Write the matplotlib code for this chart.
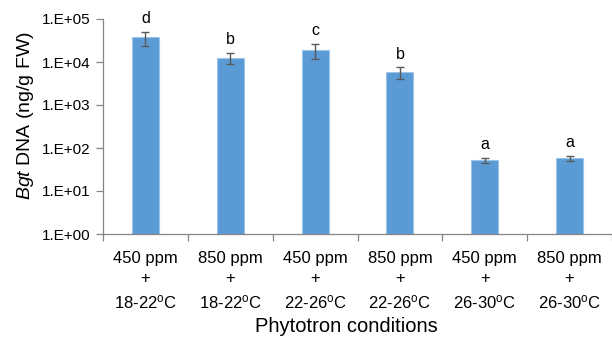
import numpy as np
import matplotlib
matplotlib.use("Agg")
import matplotlib.pyplot as plt


############################################
#                   DATA                   #
############################################

conditions = ["450 ppm\n+\n18-22$^{\\mathrm{o}}$C",
              "850 ppm\n+\n18-22$^{\\mathrm{o}}$C",
              "450 ppm\n+\n22-26$^{\\mathrm{o}}$C",
              "850 ppm\n+\n22-26$^{\\mathrm{o}}$C",
              "450 ppm\n+\n26-30$^{\\mathrm{o}}$C",
              "850 ppm\n+\n26-30$^{\\mathrm{o}}$C"]
bgt_dna = [37500, 12600, 19300, 5800, 52, 57.5]   # ng/g FW
bgt_err = [13500, 3600, 7500, 1700, 7, 8]
letters = ["d", "b", "c", "b", "a", "a"]
ytick_vals = [1e0, 1e1, 1e2, 1e3, 1e4, 1e5]
ytick_labels = ["1.E+00", "1.E+01", "1.E+02", "1.E+03", "1.E+04", "1.E+05"]


############################################
#                 SETTINGS                 #
############################################

plt.rcParams['font.family'] = ['Liberation Sans', 'DejaVu Sans']
plt.rcParams['mathtext.fontset'] = 'custom'
plt.rcParams['mathtext.rm'] = 'Liberation Sans'
plt.rcParams['mathtext.it'] = 'Liberation Sans:italic'

axis_col = '#868686'
bar_col = '#5B9BD5'


############################################
#                 PLOTTING                 #
############################################

fig = plt.figure(figsize=(6.12, 3.37), dpi=100)
ax = fig.add_axes([103/612, 103/337, 509/612, 215/337])

x = np.arange(len(bgt_dna))
ax.bar(x, bgt_dna, width=0.32, color=bar_col, edgecolor='#9DC3E6', linewidth=0.8,
       yerr=bgt_err, error_kw=dict(ecolor='#595959', elinewidth=1.0, capsize=3, capthick=1.0))

for xi, val, err, let in zip(x, bgt_dna, bgt_err, letters):
    ax.annotate(let, (xi, val + err), xytext=(0, 4), textcoords='offset points',
                ha='center', va='bottom', fontsize=11.5)

ax.set_yscale('log')
ax.set_ylim(1, 1e5)
ax.set_xlim(-0.5, 5.5)
ax.set_yticks(ytick_vals)
ax.set_yticklabels(ytick_labels)
ax.yaxis.set_minor_locator(matplotlib.ticker.NullLocator())

ax.set_xticks(x)
ax.set_xticklabels(conditions, linespacing=1.45)
ax.set_xticks(np.arange(len(bgt_dna) + 1) - 0.5, minor=True)
ax.tick_params(axis='x', which='major', length=0, pad=12, labelsize=12)
ax.tick_params(axis='x', which='minor', length=5, width=0.9, color=axis_col)
ax.tick_params(axis='y', which='major', length=5, width=0.9, color=axis_col, pad=4, labelsize=11)

for side in ['top', 'right']:
    ax.spines[side].set_visible(False)
for side in ['left', 'bottom']:
    ax.spines[side].set_color(axis_col)
    ax.spines[side].set_linewidth(0.9)

fig.text(346/612, 1 - 327/337, "Phytotron conditions", ha='center', va='center', fontsize=14.5)
fig.text(26/612, 1 - 116/337, "$\\mathit{Bgt}$ DNA (ng/g FW)", rotation=90,
         ha='center', va='center', fontsize=14)

plt.savefig("out.png", dpi=100)
